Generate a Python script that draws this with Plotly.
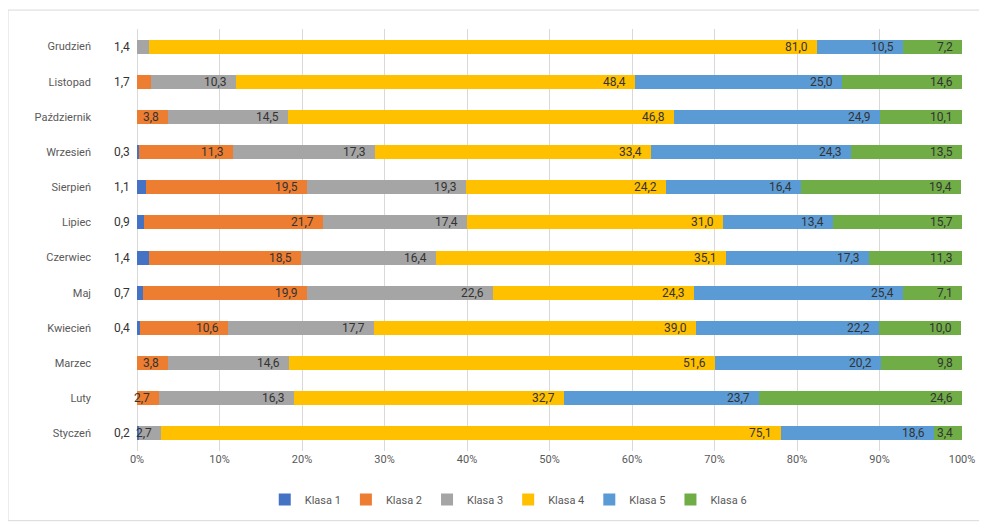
import plotly.graph_objects as go

months = ["Styczeń", "Luty", "Marzec", "Kwiecień", "Maj", "Czerwiec",
          "Lipiec", "Sierpień", "Wrzesień", "Październik", "Listopad", "Grudzień"]

klasa1 = [0.2, 0.0, 0.0, 0.4, 0.7, 1.4, 0.9, 1.1, 0.3, 0.0, 0.0, 0.0]
klasa2 = [0.0, 2.7, 3.8, 10.6, 19.9, 18.5, 21.7, 19.5, 11.3, 3.8, 1.7, 0.0]
klasa3 = [2.7, 16.3, 14.6, 17.7, 22.6, 16.4, 17.4, 19.3, 17.3, 14.5, 10.3, 1.4]
klasa4 = [75.1, 32.7, 51.6, 39.0, 24.3, 35.1, 31.0, 24.2, 33.4, 46.8, 48.4, 81.0]
klasa5 = [18.6, 23.7, 20.2, 22.2, 25.4, 17.3, 13.4, 16.4, 24.3, 24.9, 25.0, 10.5]
klasa6 = [3.4, 24.6, 9.8, 10.0, 7.1, 11.3, 15.7, 19.4, 13.5, 10.1, 14.6, 7.2]

series_names = ["Klasa 1", "Klasa 2", "Klasa 3", "Klasa 4", "Klasa 5", "Klasa 6"]
series_values = [klasa1, klasa2, klasa3, klasa4, klasa5, klasa6]
colors = ["#4472C4", "#ED7D31", "#A5A5A5", "#FFC000", "#5B9BD5", "#70AD47"]

x_ticks = list(range(0, 101, 10))

fig = go.Figure()
for name, vals, col in zip(series_names, series_values, colors):
    fig.add_trace(go.Bar(
        y=months, x=vals, name=name, orientation="h",
        marker=dict(color=col, line=dict(width=0)),
        hoverinfo="x+name",
    ))

annotations = []
cum = [0.0] * len(months)
for vals in series_values:
    for i, v in enumerate(vals):
        end = cum[i] + v
        if v > 0:
            label = f"{v:.1f}".replace(".", ",")
            if v < 2.0:
                ax_x, shift = 0, -5
            else:
                ax_x, shift = min(end, 100), -7
            annotations.append(dict(
                x=ax_x, y=months[i], xref="x", yref="y", text=label,
                showarrow=False, xanchor="right", yanchor="middle",
                xshift=shift,
                font=dict(family="Liberation Sans Narrow, Roboto, sans-serif",
                          size=12, color="#333333"),
            ))
        cum[i] = end

fig.update_layout(
    width=979, height=518,
    margin=dict(l=129, r=25, t=21, b=73),
    barmode="stack",
    bargap=0.6,
    plot_bgcolor="white",
    paper_bgcolor="white",
    font=dict(family="Liberation Sans Narrow, Roboto, sans-serif", color="#595959", size=11),
    xaxis=dict(
        range=[0, 100], tickvals=x_ticks,
        ticktext=[f"{t}%" for t in x_ticks],
        showgrid=True, gridcolor="#D9D9D9", gridwidth=1,
        zeroline=True, zerolinecolor="#D9D9D9", zerolinewidth=1,
        showline=False, ticks="", fixedrange=True,
        tickfont=dict(size=11, color="#595959"),
    ),
    yaxis=dict(
        categoryorder="array", categoryarray=months,
        showgrid=False, zeroline=False, showline=False, ticks="",
        ticklabelstandoff=45,
        tickfont=dict(size=11, color="#595959"),
    ),
    legend=dict(
        orientation="h", x=0.45, xanchor="center", y=-0.115, yanchor="middle",
        font=dict(size=11, color="#595959"), traceorder="normal",
        itemwidth=30,
    ),
    annotations=annotations,
    shapes=[dict(
        type="rect", xref="paper", yref="paper",
        x0=(0 - 129) / 825, x1=(977 - 129) / 825,
        y0=(445 - 515) / 424, y1=(445 - 2) / 424,
        line=dict(color="#D9D9D9", width=1), fillcolor="rgba(0,0,0,0)",
        layer="below",
    )],
)

fig.write_html("out.html")
